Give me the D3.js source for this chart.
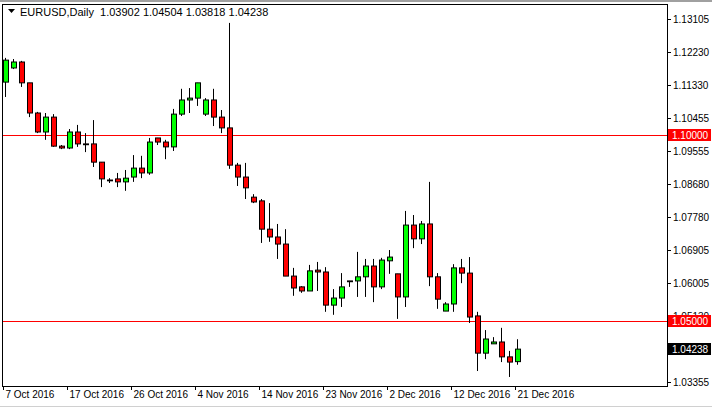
<!DOCTYPE html>
<html><head><meta charset="utf-8">
<script src="https://cdn.jsdelivr.net/npm/d3@7"></script>
<style>body{margin:0;background:#fff}svg{display:block}text{font-family:"Liberation Sans",Arial,sans-serif}</style>
</head><body><svg id="c" width="712" height="408"></svg>
<script>
const opens  = [1.1141,1.1179,1.1195,1.1139,1.1058,1.1007,1.1047,1.0969,1.0964,1.1007,1.0975,1.0975,1.0926,1.0878,1.0881,1.0873,1.0886,1.0910,1.0897,1.0991,1.0980,1.0967,1.1055,1.1093,1.1098,1.1055,1.1093,1.1047,1.1018,1.0918,1.0886,1.0832,1.0822,1.0746,1.0725,1.0706,1.0620,1.0591,1.0580,1.0636,1.0631,1.0542,1.0561,1.0607,1.0607,1.0618,1.0647,1.0591,1.0661,1.0626,1.0564,1.0757,1.0720,1.0760,1.0618,1.0526,1.0545,1.0642,1.0628,1.0513,1.0413,1.0438,1.0443,1.0403,1.03902];
const highs  = [1.1206,1.1203,1.1198,1.1139,1.1061,1.1058,1.1055,1.0972,1.1015,1.1026,1.1004,1.1039,1.0926,1.0883,1.0897,1.0905,1.0945,1.0943,1.0991,1.0991,1.0986,1.1069,1.1123,1.1125,1.1139,1.1098,1.1123,1.1066,1.1300,1.0924,1.0924,1.0840,1.0827,1.0816,1.0760,1.0746,1.0642,1.0593,1.0650,1.0658,1.0644,1.0585,1.0628,1.0607,1.0685,1.0666,1.0666,1.0669,1.0690,1.0626,1.0795,1.0784,1.0768,1.0873,1.0628,1.0550,1.0652,1.0666,1.0671,1.0524,1.0475,1.0456,1.0481,1.0419,1.04504];
const lows   = [1.1101,1.1176,1.1128,1.1047,1.1004,1.0986,1.0967,1.0961,1.0961,1.0967,1.0953,1.0913,1.0859,1.0870,1.0859,1.0849,1.0873,1.0883,1.0892,1.0972,1.0934,1.0956,1.1050,1.1058,1.1077,1.1050,1.1023,1.1004,1.0908,1.0862,1.0827,1.0816,1.0709,1.0712,1.0666,1.0620,1.0567,1.0575,1.0580,1.0580,1.0524,1.0516,1.0537,1.0591,1.0564,1.0564,1.0550,1.0585,1.0626,1.0505,1.0537,1.0695,1.0706,1.0593,1.0532,1.0526,1.0524,1.0601,1.0494,1.0365,1.0397,1.0438,1.0389,1.0349,1.03818];
const closes = [1.1200,1.1195,1.1139,1.1058,1.1007,1.1047,1.0969,1.0964,1.1007,1.0975,1.0974,1.0926,1.0881,1.0877,1.0873,1.0883,1.0910,1.0897,1.0980,1.0980,1.0967,1.1055,1.1093,1.1098,1.1139,1.1093,1.1047,1.1018,1.0918,1.0886,1.0857,1.0819,1.0746,1.0725,1.0706,1.0620,1.0588,1.0580,1.0634,1.0631,1.0542,1.0561,1.0591,1.0606,1.0618,1.0647,1.0591,1.0663,1.0671,1.0564,1.0757,1.0720,1.0760,1.0618,1.0558,1.0545,1.0642,1.0628,1.0510,1.0413,1.0451,1.0443,1.0403,1.0389,1.04238];
const tickValues = [1.13105,1.12230,1.11330,1.10455,1.09555,1.08680,1.07780,1.06905,1.06005,1.05130,1.03355];
const dateLabels = ["7 Oct 2016","17 Oct 2016","26 Oct 2016","4 Nov 2016","14 Nov 2016","23 Nov 2016","2 Dec 2016","12 Dec 2016","21 Dec 2016"];
const dateIdx = [0,8,16,24,32,40,48,56,64];
const levels = [1.10000,1.05000];
const title = "EURUSD,Daily  1.03902 1.04504 1.03818 1.04238";

const svg = d3.select("#c");
const L=2,R=667,T=4,B=386;
const x = d3.scaleLinear().domain([0,64]).range([5,517]);
const y = d3.scaleLinear().domain([1.03355,1.13105]).range([382,19]);

svg.append("rect").attr("x",0).attr("y",0).attr("width",712).attr("height",408).attr("fill","#fff");
svg.append("line").attr("x1",0).attr("x2",712).attr("y1",1).attr("y2",1).attr("stroke","#a0a0a0").attr("stroke-width",2);
svg.append("line").attr("x1",0).attr("x2",712).attr("y1",406.5).attr("y2",406.5).attr("stroke","#d0d0d0");
svg.append("rect").attr("x",L+0.5).attr("y",T+0.5).attr("width",R-L).attr("height",B-T).attr("fill","none").attr("stroke","#000");

levels.forEach(v=>{
  svg.append("line").attr("x1",L+1).attr("x2",R).attr("y1",Math.round(y(v))+0.5).attr("y2",Math.round(y(v))+0.5).attr("stroke","#f00");
});

const data = opens.map((o,i)=>({i,o,h:highs[i],l:lows[i],c:closes[i]}));
const g = svg.append("g");
g.selectAll("line.w").data(data).join("line").attr("class","w")
  .attr("x1",d=>Math.round(x(d.i))+0.5).attr("x2",d=>Math.round(x(d.i))+0.5)
  .attr("y1",d=>y(d.h)).attr("y2",d=>y(d.l)).attr("stroke","#000");
g.selectAll("rect").data(data).join("rect")
  .attr("x",d=>Math.round(x(d.i))-2+0.5).attr("width",5)
  .attr("y",d=>y(Math.max(d.o,d.c))).attr("height",d=>Math.max(0.8,Math.abs(y(d.o)-y(d.c))))
  .attr("fill",d=>d.c>=d.o?"#00ff00":"#ff0000").attr("stroke","#000");

const ax = svg.append("g");
tickValues.forEach(v=>{
  const yy=Math.round(y(v))+0.5;
  ax.append("line").attr("x1",R).attr("x2",R+4).attr("y1",yy).attr("y2",yy).attr("stroke","#000");
  ax.append("text").attr("x",673).attr("y",yy+3.5).attr("font-size",10).attr("fill","#000").text(v.toFixed(5));
});
function box(v,col,txt){
  const yy=Math.round(y(v));
  ax.append("rect").attr("x",R+1).attr("y",yy-6).attr("width",43).attr("height",12).attr("fill",col);
  ax.append("text").attr("x",672).attr("y",yy+4).attr("font-size",10).attr("fill","#fff").text(txt);
}
levels.forEach(v=>box(v,"#f00",v.toFixed(5)));
box(closes[closes.length-1],"#000",closes[closes.length-1].toFixed(5));

dateIdx.forEach((idx,k)=>{
  const xx=Math.round(x(idx))+0.5;
  svg.append("line").attr("x1",xx-2).attr("x2",xx-2).attr("y1",B).attr("y2",B+4).attr("stroke","#000");
  svg.append("text").attr("x",xx).attr("y",398).attr("font-size",10).attr("fill","#000").text(dateLabels[k]);
});

svg.append("path").attr("d","M8,9 L15,9 L11.5,13 Z").attr("fill","#000");
svg.append("text").attr("x",20).attr("y",16).attr("font-size",11).attr("fill","#000").style("white-space","pre").text(title);
</script></body></html>
